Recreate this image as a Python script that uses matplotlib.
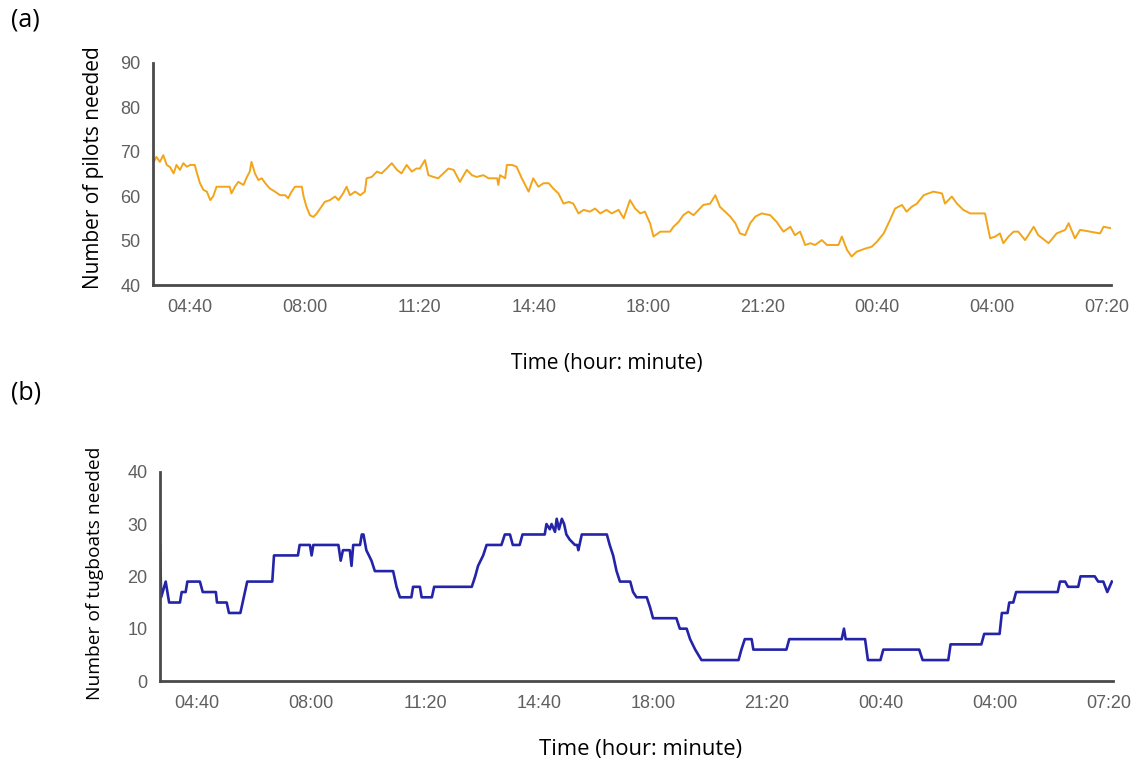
import matplotlib
matplotlib.use("Agg")
import matplotlib.pyplot as plt

plt.rcParams['font.family'] = ['Liberation Sans', 'DejaVu Sans']

# time axis in minutes since 00:00 of day 1 (values past 1440 are the next day)
tick_minutes = [280, 480, 680, 880, 1080, 1280, 1480, 1680, 1880]
tick_labels = ['04:40', '08:00', '11:20', '14:40', '18:00', '21:20', '00:40', '04:00', '07:20']

# (a) pilots needed
pilot_t = [215, 221, 227, 233, 239, 245, 251, 256, 262, 268, 274, 280, 288, 291, 297,
           303, 309, 315, 320, 326, 332, 349, 352, 358, 364, 373, 379, 384, 387, 393,
           399, 405, 411, 419, 428, 437, 446, 451, 457, 463, 475, 478, 483, 489, 495,
           501, 507, 515, 524, 533, 539, 547, 553, 559, 568, 577, 585, 588, 597, 606,
           614, 623, 632, 641, 649, 658, 667, 675, 681, 690, 696, 705, 713, 722, 731,
           740, 751, 763, 772, 780, 792, 801, 816, 818, 821, 830, 833, 842, 850, 859,
           871, 879, 888, 897, 906, 914, 923, 932, 941, 949, 958, 967, 978, 987, 996,
           1007, 1016, 1028, 1037, 1048, 1057, 1066, 1074, 1083, 1089, 1101, 1118, 1124,
           1133, 1141, 1150, 1159, 1168, 1176, 1188, 1197, 1205, 1214, 1223, 1232, 1240,
           1249, 1258, 1267, 1278, 1293, 1304, 1316, 1328, 1336, 1345, 1354, 1363, 1371,
           1383, 1392, 1412, 1418, 1427, 1435, 1444, 1459, 1470, 1479, 1491, 1502, 1511,
           1523, 1531, 1540, 1549, 1561, 1569, 1578, 1593, 1598, 1610, 1619, 1630, 1642,
           1668, 1677, 1686, 1694, 1700, 1709, 1718, 1726, 1738, 1753, 1761, 1779, 1793,
           1808, 1814, 1825, 1834, 1852, 1869, 1875, 1887]
pilot_n = [67.4, 68.8, 67.7, 69.2, 67.0, 66.5, 65.1, 67.0, 65.9, 67.4, 66.6, 67.0, 67.0, 65.5, 62.9,
           61.4, 61.0, 59.1, 59.9, 62.1, 62.1, 62.1, 60.6, 62.1, 63.2, 62.5, 64.3, 65.5, 67.7, 65.1,
           63.6, 64.0, 62.9, 61.7, 61.0, 60.2, 60.2, 59.5, 61.0, 62.1, 62.1, 59.9, 57.6, 55.7, 55.3,
           56.1, 57.2, 58.7, 59.1, 59.9, 59.1, 60.6, 62.1, 60.2, 61.0, 60.2, 61.0, 64.0, 64.3, 65.5,
           65.1, 66.2, 67.4, 65.9, 65.1, 67.0, 65.5, 66.2, 66.2, 68.1, 64.7, 64.3, 64.0, 65.1, 66.2,
           65.9, 63.2, 65.9, 64.7, 64.3, 64.7, 64.0, 64.0, 62.5, 64.7, 64.0, 67.0, 67.0, 66.6, 64.0,
           61.0, 64.0, 62.1, 62.9, 62.9, 61.7, 60.6, 58.3, 58.7, 58.3, 56.1, 56.9, 56.5, 57.2, 56.1,
           56.9, 56.1, 56.9, 55.0, 59.1, 57.2, 56.1, 56.5, 53.9, 50.9, 52.0, 52.0, 53.1,
           54.2, 55.7, 56.5, 55.7, 56.9, 58.0, 58.3, 60.2, 57.6, 56.5, 55.4, 53.9, 51.6,
           51.2, 53.9, 55.4, 56.1, 55.7, 54.2, 52.0, 53.1, 51.2, 52.0, 49.0, 49.4, 49.0,
           50.1, 49.0, 49.0, 50.9, 47.9, 46.4, 47.5, 48.2, 48.6, 49.7, 51.6, 54.6, 57.2,
           58.0, 56.5, 57.6, 58.3, 60.2, 60.6, 61.0, 60.6, 58.3, 59.9, 58.3, 56.9, 56.1,
           56.1, 50.5, 50.9, 51.6, 49.4, 50.9, 52.0, 52.0, 50.1, 53.1, 51.2, 49.4, 51.6,
           52.4, 53.9, 50.5, 52.4, 52.0, 51.6, 53.1, 52.8]

# (b) tugboats needed
tug_t = [215, 217, 225, 231, 250, 253, 260, 263, 285, 290, 313, 315, 332, 336, 356, 360,
         362, 368, 412, 415, 457, 460, 478, 481, 484, 528, 532, 536, 548, 551, 554, 566,
         569, 572, 577, 586, 592, 624, 630, 636, 656, 659, 671, 674, 692, 696, 762, 765,
         768, 773, 782, 788, 814, 820, 829, 834, 846, 851, 890, 893, 899, 902, 908, 911,
         915, 920, 924, 928, 934, 943, 947, 949, 955, 999, 1004, 1010, 1016, 1022, 1040,
         1045, 1051, 1069, 1075, 1080, 1121, 1127, 1139, 1145, 1154, 1165, 1230, 1235,
         1241, 1253, 1256, 1314, 1319, 1411, 1415, 1418, 1452, 1457, 1479, 1484, 1547,
         1553, 1598, 1602, 1656, 1661, 1688, 1692, 1702, 1705, 1712, 1717, 1790, 1794,
         1803, 1808, 1826, 1830, 1855, 1861, 1870, 1877, 1885]
tug_n = [26, 16, 19, 15, 15, 17, 17, 19, 19, 17, 17, 15, 15, 13, 13, 15,
         16, 19, 19, 24, 24, 26, 26, 24, 26, 26, 23, 25, 25, 22, 26, 26,
         28, 28, 25, 23, 21, 21, 18, 16, 16, 18, 18, 16, 16, 18, 18, 19,
         20, 22, 24, 26, 26, 28, 28, 26, 26, 28, 28, 30, 29, 30, 28.5, 31,
         29, 31, 30, 28, 27, 26, 26, 25, 28, 28, 26, 24, 21, 19, 19,
         17, 16, 16, 14, 12, 12, 10, 10, 8, 6, 4, 4, 6,
         8, 8, 6, 6, 8, 8, 10, 8, 8, 4, 4, 6, 6,
         4, 4, 7, 7, 9, 9, 13, 13, 15, 15, 17, 17, 19,
         19, 18, 18, 20, 20, 19, 19, 17, 19]

W, H = 1136, 760
fig = plt.figure(figsize=(W / 100, H / 100), dpi=100)

label_font = ['Open Sans', 'DejaVu Sans']
axis_col = '#4a4a4a'
tick_col = '#5f5f5f'


def style_axis(ax, ylim, yticks, xlim):
    ax.set_xlim(*xlim)
    ax.set_ylim(*ylim)
    ax.set_yticks(yticks)
    ax.set_xticks(tick_minutes)
    ax.set_xticklabels(tick_labels)
    for s in ('top', 'right'):
        ax.spines[s].set_visible(False)
    for s in ('left', 'bottom'):
        ax.spines[s].set_color(axis_col)
        ax.spines[s].set_linewidth(2)
    ax.tick_params(length=0, labelsize=13, labelcolor=tick_col)
    ax.tick_params(axis='x', pad=10)
    ax.tick_params(axis='y', pad=9)


# panel (a)
ax1 = fig.add_axes([153 / W, 1 - 285 / H, (1111 - 153) / W, (285 - 62.7) / H])
ax1.plot(pilot_t, pilot_n, color='#F2A51A', lw=1.4)
style_axis(ax1, (40, 90), [40, 50, 60, 70, 80, 90], (215, 1888))

# panel (b)
ax2 = fig.add_axes([160 / W, 1 - 681 / H, (1113 - 160) / W, (681 - 471.7) / H])
ax2.plot(tug_t, tug_n, color='#2424A8', lw=1.9)
style_axis(ax2, (0, 40), [0, 10, 20, 30, 40], (215, 1887))

# labels
fig.text(11 / W, 1 - 20 / H, '(a)', fontsize=18, family=label_font, ha='left', va='center')
fig.text(11 / W, 1 - 393 / H, '(b)', fontsize=18, family=label_font, ha='left', va='center')
fig.text(93 / W, 1 - 168 / H, 'Number of pilots needed', fontsize=15, family=label_font,
         rotation=90, ha='center', va='center')
fig.text(95 / W, 1 - 573 / H, 'Number of tugboats needed', fontsize=13.8, family=label_font,
         rotation=90, ha='center', va='center')
fig.text(607 / W, 1 - 363 / H, 'Time (hour: minute)', fontsize=15, family=label_font,
         ha='center', va='center')
fig.text(641 / W, 1 - 750 / H, 'Time (hour: minute)', fontsize=15.8, family=label_font,
         ha='center', va='center')

fig.savefig('out.png', dpi=100)
